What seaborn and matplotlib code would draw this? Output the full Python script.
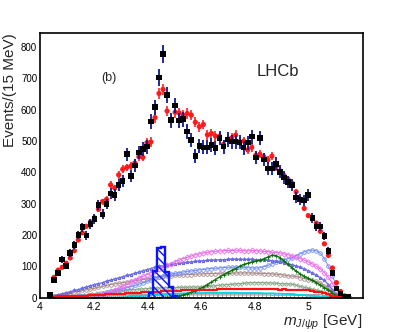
import numpy as np
import pandas as pd
import matplotlib
matplotlib.use("Agg")
import matplotlib.pyplot as plt
import seaborn as sns

# ---------------- data ----------------
mass_lo = 4.03       # GeV, lower edge of first bin
bin_w = 0.015        # GeV
data_counts = [9, 56, 78, 122, 102, 142, 168, 200, 225, 198,
               235, 251, 296, 266, 299, 333, 328, 360, 373, 458,
               388, 422, 463, 475, 482, 562, 608, 703, 778, 647,
               567, 614, 565, 570, 530, 503, 452, 485, 480, 480,
               487, 477, 509, 482, 505, 498, 498, 496, 479, 495,
               514, 448, 510, 441, 413, 413, 427, 402, 384, 370,
               360, 320, 314, 310, 328, 255, 227, 227, 197, 149,
               79, 30, 14, 4, 2]
fit_counts = [10, 65, 88, 97, 110, 127, 150, 184, 207, 228,
              242, 255, 282, 307, 314, 360, 350, 392, 410, 416,
              420, 430, 450, 448, 495, 497, 575, 652, 665, 596,
              568, 592, 590, 583, 588, 583, 560, 546, 553, 520,
              524, 516, 515, 490, 505, 510, 519, 498, 500, 472,
              480, 455, 458, 450, 440, 452, 418, 405, 390, 378,
              365, 338, 315, 285, 262, 253, 238, 212, 172, 135,
              95, 48, 20, 6, 1]
pc4450 = [0]*25 + [15, 85, 158, 163, 83, 33, 6] + [0]*43

comp_pink = [0, 0, 0, 0, 0, 0, 1, 1, 2, 3,
             5, 7, 9, 12, 16, 20, 25, 30, 36, 42,
             49, 56, 62, 68, 74, 80, 86, 92, 97, 103,
             109, 115, 120, 125, 129, 133, 137, 140, 143, 145,
             147, 148, 149, 150, 151, 150, 152, 151, 150, 149,
             151, 150, 149, 148, 147, 145, 144, 143, 140, 137,
             134, 130, 125, 120, 114, 108, 100, 92, 80, 65,
             45, 25, 10, 3, 0]
comp_slate = [4, 7, 10, 13, 16, 19, 23, 26, 30, 34,
              38, 42, 45, 48, 53, 56, 60, 63, 67, 71,
              74, 78, 82, 86, 90, 93, 97, 100, 102, 104,
              106, 108, 110, 111, 113, 114, 116, 117, 118, 119,
              120, 120, 121, 121, 122, 123, 123, 122, 122, 122,
              122, 121, 120, 120, 119, 118, 116, 114, 112, 109,
              105, 101, 97, 92, 86, 79, 72, 64, 55, 42,
              25, 12, 4, 1, 0]
comp_lblue = [0, 0, 1, 1, 2, 3, 3, 4, 5, 6,
              8, 10, 12, 14, 17, 20, 23, 26, 29, 32,
              35, 39, 43, 47, 52, 58, 62, 66, 70, 73,
              76, 78, 80, 82, 84, 85, 87, 89, 90, 92,
              93, 94, 95, 96, 97, 97, 98, 98, 97, 96,
              95, 94, 96, 99, 103, 108, 113, 117, 121, 124,
              128, 134, 140, 146, 150, 152, 150, 142, 125, 100,
              70, 35, 10, 2, 0]
comp_rosy = [1, 4, 7, 10, 13, 15, 18, 20, 23, 25,
             28, 30, 33, 36, 39, 42, 44, 46, 48, 50,
             52, 54, 56, 58, 60, 62, 64, 66, 68, 69,
             70, 71, 72, 73, 74, 74, 75, 76, 76, 77,
             77, 77, 78, 78, 78, 78, 79, 79, 79, 79,
             79, 78, 78, 77, 77, 76, 75, 74, 72, 70,
             69, 68, 64, 61, 58, 55, 52, 47, 38, 28,
             18, 9, 3, 1, 0]
comp_green = [0]*28 + [1, 1,
              2, 4, 6, 9, 13, 17, 22, 28, 34, 42,
              50, 58, 66, 73, 80, 87, 93, 100, 106, 110,
              114, 117, 120, 124, 130, 135, 134, 128, 118, 106,
              95, 85, 76, 68, 62, 55, 48, 40, 32, 25,
              15, 6, 2, 0, 0]
comp_sage = [0, 1, 2, 3, 4, 5, 6, 8, 9, 10,
             11, 12, 14, 15, 17, 18, 20, 21, 23, 24,
             25, 26, 27, 28, 29, 30, 30, 31, 31, 32,
             32, 32, 33, 33, 33, 34, 34, 34, 35, 36,
             37, 38, 40, 41, 42, 43, 44, 45, 46, 47,
             48, 48, 48, 48, 47, 47, 46, 45, 44, 44,
             43, 40, 36, 33, 30, 27, 24, 21, 17, 12,
             8, 4, 2, 0, 0]
comp_bkg = [2, 3, 4, 4, 5, 5, 6, 6, 7, 7,
            8, 9, 9, 10, 11, 11, 12, 13, 13, 14,
            15, 15, 16, 17, 17, 18, 19, 19, 20, 21,
            21, 22, 22, 23, 23, 24, 24, 25, 25, 26,
            26, 26, 27, 27, 27, 28, 28, 28, 28, 28,
            28, 28, 27, 27, 28, 27, 27, 26, 27, 26,
            26, 25, 25, 24, 23, 21, 19, 17, 14, 11,
            7, 4, 2, 1, 0]
comp_cyan = [0]*18 + [1, 2,
             3, 4, 5, 6, 7, 8, 9, 10, 11, 12,
             12, 13, 13, 14, 14, 15, 15, 15, 15, 16,
             16, 16, 16, 16, 16, 16, 16, 15, 15, 15,
             15, 15, 15, 14, 14, 14, 13, 13, 12, 12,
             11, 10, 9, 8, 7, 6, 5, 4, 3, 2,
             1, 0, 0, 0, 0]
comp_gray = [0, 1, 1, 2, 2, 3, 3, 3, 4, 4,
             4, 5, 5, 5, 5, 6, 6, 6, 6, 6,
             7, 7, 7, 7, 7, 8, 8, 8, 8, 8,
             8, 8, 8, 8, 9, 9, 9, 9, 9, 9,
             9, 9, 9, 9, 9, 9, 9, 9, 9, 9,
             9, 9, 9, 9, 9, 8, 8, 8, 8, 8,
             8, 7, 7, 7, 6, 6, 5, 4, 3, 2,
             1, 1, 0, 0, 0]

x_ticks = [4.0, 4.2, 4.4, 4.6, 4.8, 5.0]
x_tick_labels = ["4", "4.2", "4.4", "4.6", "4.8", "5"]
y_ticks = [0, 100, 200, 300, 400, 500, 600, 700, 800]

# --------------- derived ----------------
nbins = len(data_counts)
edges = mass_lo + bin_w * np.arange(nbins + 1)
centers = 0.5 * (edges[:-1] + edges[1:])
df = pd.DataFrame({"m": centers, "data": data_counts, "fit": fit_counts})
data_err = np.sqrt(np.array(data_counts, dtype=float))
fit_err = 0.025 * np.array(fit_counts, dtype=float) + 2

# --------------- style ----------------
sns.set_theme(style="white")
plt.rcParams["font.family"] = ["Liberation Sans", "DejaVu Sans"]
plt.rcParams["mathtext.fontset"] = "custom"
plt.rcParams["mathtext.rm"] = "Liberation Sans"
plt.rcParams["mathtext.it"] = "Liberation Sans:italic"
plt.rcParams["mathtext.bf"] = "Liberation Sans:bold"
plt.rcParams["hatch.linewidth"] = 1.0

fig = plt.figure(figsize=(4.03, 3.32), dpi=100)
ax = fig.add_axes([40/403, (332-297.7)/332, 322.7/403, 264.7/332])

components = [
    (comp_gray,  "#9a9a9a", "s", 0.8),
    (comp_cyan,  "#00d8e8", None, 1.3),
    (comp_sage,  "#86a886", "x", 0.8),
    (comp_rosy,  "#a88a8a", "o", 0.8),
    (comp_lblue, "#6f8cff", "o", 0.7),
    (comp_slate, "#6a6ae6", "*", 0.9),
    (comp_pink,  "#f06cf0", "D", 0.8),
    (comp_green, "#0b6e0b", "+", 1.0),
]
for vals, col, mk, lw in components:
    cdf = pd.DataFrame({"m": centers, "v": vals})
    if mk is None:
        sns.lineplot(data=cdf, x="m", y="v", ax=ax, color=col, lw=lw)
    else:
        sns.lineplot(data=cdf, x="m", y="v", ax=ax, color=col, lw=lw,
                     marker=mk, markersize=2.6, markerfacecolor="none",
                     markeredgecolor=col, markeredgewidth=0.6)

# background (red line)
sns.lineplot(x=centers, y=comp_bkg, ax=ax, color="#ff1010", lw=1.6,
             drawstyle="steps-mid")

# Pc(4450) hatched histogram (only its non-empty range)
pc_arr = np.array(pc4450, dtype=float)
nz = np.nonzero(pc_arr)[0]
lo, hi = nz[0] - 1, nz[-1] + 2
ax.stairs(pc_arr[lo:hi], edges[lo:hi + 1], fill=True, facecolor="none",
          edgecolor="#0a14ff", hatch="\\\\\\\\", linewidth=0, zorder=3)
ax.stairs(pc_arr[lo:hi], edges[lo:hi + 1], fill=False, edgecolor="#0a14ff",
          linewidth=1.7, zorder=3, baseline=None)

# fit (red points with small error bars)
ax.errorbar(centers, fit_counts, yerr=fit_err, fmt="none", ecolor="#ff2020",
            elinewidth=1.2, capsize=0)
sns.scatterplot(data=df, x="m", y="fit", ax=ax, color="#ff1a1a", marker="o",
                s=14, edgecolor="none", zorder=4)

# data (black squares, blue errors)
ax.errorbar(centers, data_counts, yerr=data_err, fmt="none", ecolor="#101890",
            elinewidth=1.3, capsize=0, zorder=5)
sns.scatterplot(data=df, x="m", y="data", ax=ax, color="black", marker="s",
                s=16, edgecolor="none", zorder=6)

# --------------- axes ----------------
ax.set_xlim(4.0, 5.2)
ax.set_ylim(0, 845)
ax.set_xticks(x_ticks)
ax.set_xticklabels(x_tick_labels)
ax.set_yticks(y_ticks)
ax.xaxis.set_minor_locator(matplotlib.ticker.MultipleLocator(0.05))
ax.yaxis.set_minor_locator(matplotlib.ticker.MultipleLocator(20))
ax.tick_params(axis="both", which="both", direction="in", colors="black",
               top=False, right=False)
ax.tick_params(axis="both", which="major", length=6, width=1.0)
ax.tick_params(axis="both", which="minor", length=3, width=1.0)
ax.tick_params(axis="x", which="major", labelsize=7.5, pad=3)
ax.tick_params(axis="y", which="major", labelsize=7, pad=2)
for sp in ax.spines.values():
    sp.set_visible(True)
    sp.set_color("black")
    sp.set_linewidth(1.2)
ax.grid(False)

ax.set_ylabel("Events/(15 MeV)", fontsize=11, loc="top")
ax.yaxis.set_label_coords(-0.072, 1.0)
ax.set_xlabel(r"$m_{J/\psi p}$ [GeV]", fontsize=11, loc="right")
ax.xaxis.set_label_coords(1.0, -0.055)

ax.text(0.214, 0.83, "(b)", transform=ax.transAxes, fontsize=9,
        ha="center", va="center")
ax.text(0.7375, 0.856, "LHCb", transform=ax.transAxes, fontsize=12,
        ha="center", va="center")

fig.savefig("out.png", dpi=100)
